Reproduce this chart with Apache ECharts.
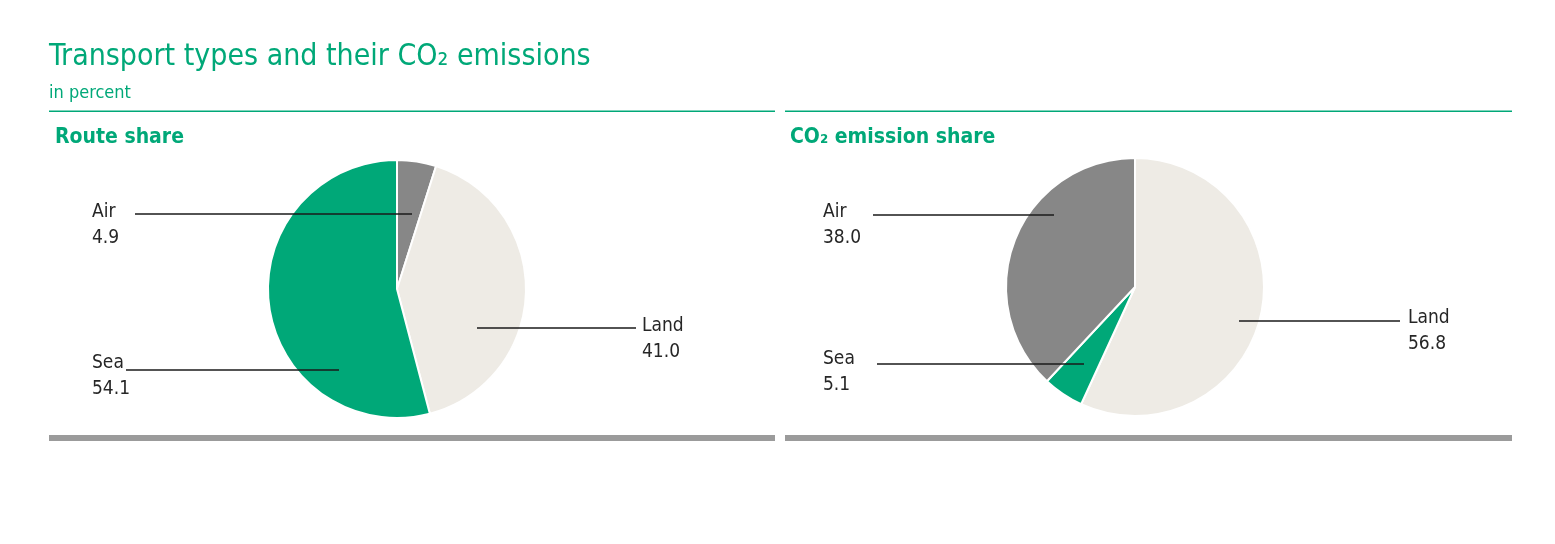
<!DOCTYPE html>
<html><head><meta charset="utf-8">
<script src="https://cdn.jsdelivr.net/npm/echarts@6/dist/echarts.min.js"></script>
<style>html,body{margin:0;padding:0;background:#fff}#c{width:1555px;height:544px}</style>
</head><body><div id="c"></div>
<script>
// ---- data ----
const routeCategories = ['Air', 'Land', 'Sea'];
const routeValues = [4.9, 41.0, 54.1];
const co2Categories = ['Land', 'Sea', 'Air'];
const co2Values = [56.8, 5.1, 38.0];

// ---- style ----
const GREEN = '#00A878';
const colorOf = { Air: '#878787', Land: '#EEEBE5', Sea: '#00A878' };
const FONT = '"Liberation Sans Narrow", "DejaVu Sans Condensed", "Roboto Condensed", "Liberation Sans", sans-serif';

// label anchor layout (text top-left, leader line y and x-range)
const labelLayouts = [
  { Air:  { x: 92,  y: 199, ly: 214, lx0: 135, lx1: 412 },
    Land: { x: 642, y: 313, ly: 328, lx0: 477, lx1: 636 },
    Sea:  { x: 92,  y: 350, ly: 370, lx0: 126, lx1: 339 } },
  { Air:  { x: 823, y: 199, ly: 215, lx0: 873, lx1: 1054 },
    Land: { x: 1408, y: 305, ly: 321, lx0: 1239, lx1: 1400 },
    Sea:  { x: 823, y: 346, ly: 364, lx0: 877, lx1: 1084 } }
];

function baseSeries(cats, vals, center) {
  return {
    type: 'pie',
    center: center,
    radius: 129,
    startAngle: 90,
    clockwise: true,
    avoidLabelOverlap: false,
    silent: true,
    data: cats.map((c, i) => ({ name: c, value: vals[i], itemStyle: { color: colorOf[c] } }))
  };
}

// visible slices
function sliceSeries(cats, vals, center) {
  const s = baseSeries(cats, vals, center);
  s.z = 2;
  s.itemStyle = { borderColor: '#ffffff', borderWidth: 2 };
  s.label = { show: false };
  s.labelLine = { show: false };
  return s;
}

// transparent overlay carrying labels + leader lines above the slices
function labelSeries(idx, cats, vals, center) {
  const s = baseSeries(cats, vals, center);
  s.z = 5;
  s.data = cats.map((c, i) => ({ name: c, value: vals[i], itemStyle: { color: 'rgba(0,0,0,0)' } }));
  s.itemStyle = { borderWidth: 0 };
  s.label = {
    show: true,
    position: 'outside',
    formatter: p => p.name + '\n' + p.value.toFixed(1),
    color: '#262626',
    fontFamily: FONT,
    fontSize: 19,
    lineHeight: 26
  };
  s.labelLine = { show: true, length: 10, length2: 10, lineStyle: { color: '#1a1a1a', width: 1.4 } };
  s.labelLayout = function (p) {
    const L = labelLayouts[idx][cats[p.dataIndex]];
    return {
      x: L.x, y: L.y, align: 'left', verticalAlign: 'top',
      labelLinePoints: [[L.lx1, L.ly], [(L.lx0 + L.lx1) / 2, L.ly], [L.lx0, L.ly]]
    };
  };
  return s;
}

const chart = echarts.init(document.getElementById('c'), null, { renderer: 'canvas' });
chart.setOption({
  backgroundColor: '#ffffff',
  animation: false,
  graphic: [
    { type: 'text', left: 49, top: 42, style: { text: 'Transport types and their CO₂ emissions', fill: GREEN, font: '30px ' + FONT } },
    { type: 'text', left: 49, top: 84, style: { text: 'in percent', fill: GREEN, font: '18px ' + FONT } },
    { type: 'rect', shape: { x: 49, y: 110.5, width: 726, height: 1.6 }, style: { fill: GREEN } },
    { type: 'rect', shape: { x: 785, y: 110.5, width: 727, height: 1.6 }, style: { fill: GREEN } },
    { type: 'text', left: 55, top: 127, style: { text: 'Route share', fill: GREEN, font: 'bold 21px ' + FONT } },
    { type: 'text', left: 790, top: 127, style: { text: 'CO₂ emission share', fill: GREEN, font: 'bold 21px ' + FONT } },
    { type: 'rect', shape: { x: 49, y: 435, width: 726, height: 6 }, style: { fill: '#9B9B9B' } },
    { type: 'rect', shape: { x: 785, y: 435, width: 727, height: 6 }, style: { fill: '#9B9B9B' } }
  ],
  series: [
    sliceSeries(routeCategories, routeValues, [397, 289]),
    sliceSeries(co2Categories, co2Values, [1135, 287]),
    labelSeries(0, routeCategories, routeValues, [397, 289]),
    labelSeries(1, co2Categories, co2Values, [1135, 287])
  ]
});
</script>
</body></html>
